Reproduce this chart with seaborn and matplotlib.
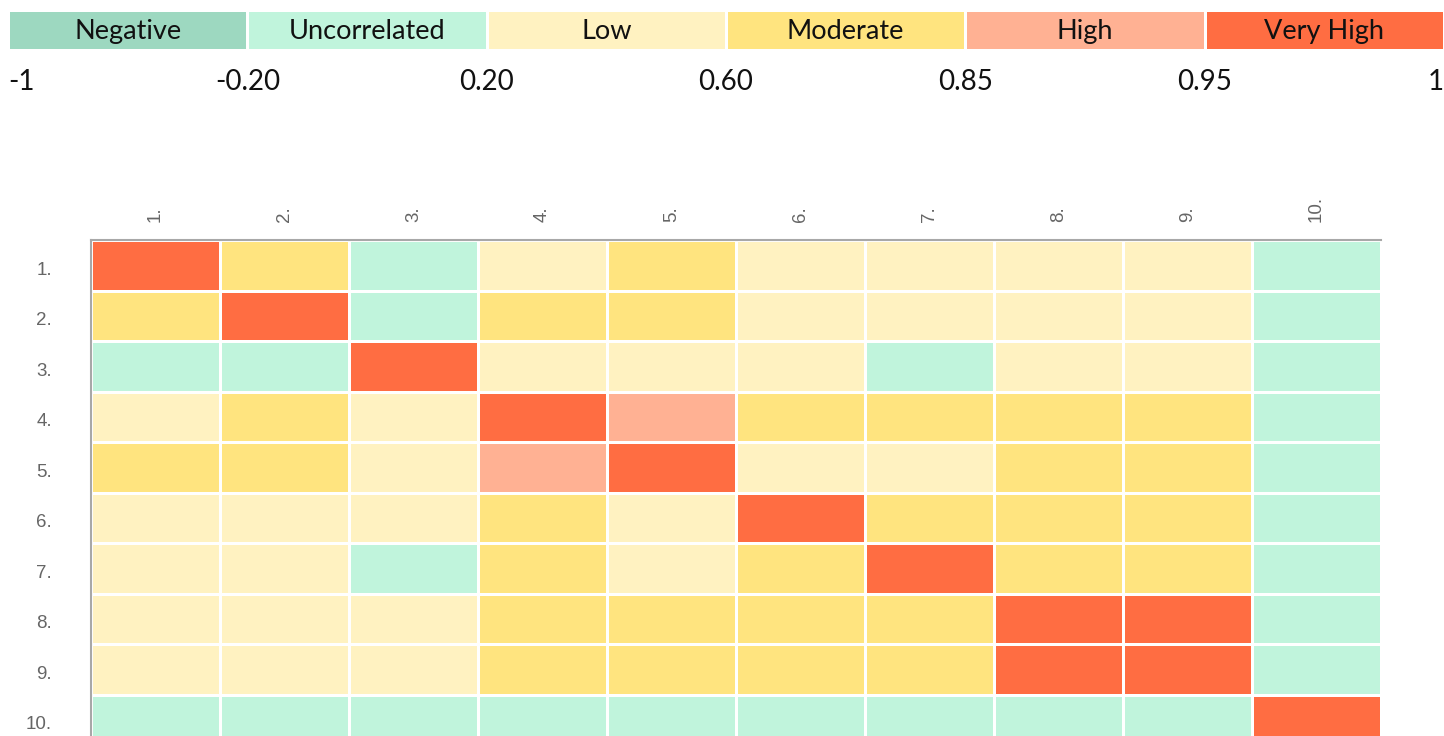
import numpy as np
import matplotlib
matplotlib.use("Agg")
import matplotlib.pyplot as plt
import matplotlib.transforms as mtransforms
from matplotlib.colors import ListedColormap
import seaborn as sns

# Legend bins
bin_names = ['Negative', 'Uncorrelated', 'Low', 'Moderate', 'High', 'Very High']
bin_edges = [-1, -0.20, 0.20, 0.60, 0.85, 0.95, 1]
edge_labels = ['-1', '-0.20', '0.20', '0.60', '0.85', '0.95', '1']
bin_colors = ['#9dd8c0', '#c0f4dc', '#fff2c1', '#ffe47f', '#ffb193', '#ff6d42']

# Correlation matrix (values estimated from the colour bins)
var_labels = ['1.', '2.', '3.', '4.', '5.', '6.', '7.', '8.', '9.', '10.']
corr = np.array([
    [1.00, 0.70, 0.10, 0.45, 0.65, 0.40, 0.38, 0.50, 0.48, 0.02],
    [0.70, 1.00, 0.15, 0.68, 0.72, 0.44, 0.42, 0.52, 0.50, 0.03],
    [0.10, 0.15, 1.00, 0.35, 0.30, 0.28, 0.18, 0.33, 0.31, -0.05],
    [0.45, 0.68, 0.35, 1.00, 0.88, 0.70, 0.66, 0.75, 0.74, 0.01],
    [0.65, 0.72, 0.30, 0.88, 1.00, 0.55, 0.52, 0.71, 0.70, 0.00],
    [0.40, 0.44, 0.28, 0.70, 0.55, 1.00, 0.78, 0.73, 0.72, 0.04],
    [0.38, 0.42, 0.18, 0.66, 0.52, 0.78, 1.00, 0.76, 0.75, 0.02],
    [0.50, 0.52, 0.33, 0.75, 0.71, 0.73, 0.76, 1.00, 0.98, 0.06],
    [0.48, 0.50, 0.31, 0.74, 0.70, 0.72, 0.75, 0.98, 1.00, 0.05],
    [0.02, 0.03, -0.05, 0.01, 0.00, 0.04, 0.02, 0.06, 0.05, 1.00],
])

sns.set_theme(style='white')
plt.rcParams['font.family'] = ['Lato', 'DejaVu Sans']

cmap = ListedColormap(bin_colors)
cat = np.digitize(corr, bin_edges[1:-1])

W, H = 1444, 736
fig = plt.figure(figsize=(W / 100, H / 100), dpi=100)

# Legend strip
ax_leg = fig.add_axes([8 / W, 1 - 50 / H, 1436 / W, 40 / H])
sns.heatmap(np.arange(6).reshape(1, 6), ax=ax_leg, cmap=cmap, vmin=-0.5, vmax=5.5,
            cbar=False, linewidths=2, linecolor='white',
            annot=np.array(bin_names).reshape(1, 6), fmt='',
            annot_kws={'fontsize': 19.5, 'color': '#111111', 'family': ['Lato', 'DejaVu Sans']})
ax_leg.set_xticks([])
ax_leg.set_yticks([])
for t in ax_leg.texts:
    t.set_y(t.get_position()[1] + 0.04)
for i, lab in enumerate(edge_labels):
    ha = 'left' if i == 0 else ('right' if i == len(edge_labels) - 1 else 'center')
    ax_leg.text(i, 1.8, lab, ha=ha, va='center', fontsize=20, color='#111111',
                clip_on=False)

# Main heatmap
ax = fig.add_axes([91 / W, -9 / H, 1290 / W, 505 / H])
sns.heatmap(cat, ax=ax, cmap=cmap, vmin=-0.5, vmax=5.5, cbar=False,
            linewidths=2, linecolor='white',
            xticklabels=var_labels, yticklabels=var_labels)
ax.xaxis.tick_top()
ax.tick_params(axis='x', length=0, pad=13, labelsize=13.5, labelcolor='#666666',
               labelrotation=90)
ax.tick_params(axis='y', length=0, pad=28, labelsize=13.5, labelcolor='#666666',
               labelrotation=0)
for t in ax.get_xticklabels() + ax.get_yticklabels():
    t.set_family(['Liberation Sans', 'DejaVu Sans'])
shift = mtransforms.ScaledTranslation(0, -5 / 100, fig.dpi_scale_trans)
for t in ax.get_yticklabels():
    t.set_ha('right')
    t.set_transform(t.get_transform() + shift)
for side in ['top', 'left']:
    ax.spines[side].set_visible(True)
    ax.spines[side].set_color('#a8a8a8')
    ax.spines[side].set_linewidth(1.5)

fig.savefig('out.png', dpi=100)
